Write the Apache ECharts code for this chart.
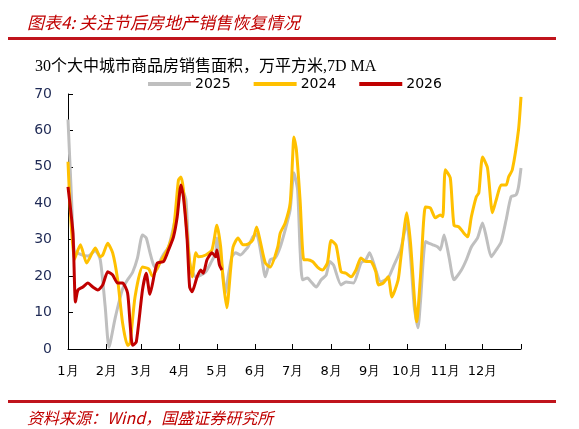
<!DOCTYPE html>
<html>
<head>
<meta charset="utf-8">
<script src="https://cdn.jsdelivr.net/npm/echarts@6/dist/echarts.min.js"></script>
<style>
  html, body { margin: 0; padding: 0; background: #fff; }
  #chart { width: 579px; height: 429px; }
</style>
</head>
<body>
<div id="chart"></div>
<script>
// day of year -> 7D MA sales area
const sales2025 = [
  [0, 63], [3, 40], [5, 27], [10, 26], [16, 25.5], [22, 27], [26, 24.5], [30, 11.5], [33, 0.5],
  [38, 8.5], [44, 16.5], [48, 19], [52, 21], [56, 25], [60, 31.3], [63, 30.5], [66, 26.5],
  [69, 23], [72, 22], [74, 24], [77, 26], [81, 28], [85, 33.5], [88, 38], [91, 44.5], [95, 41],
  [98, 23.6], [103, 19.8], [107, 20.3], [111, 21.2], [115, 23.6], [119, 26.4], [120, 30.5],
  [123, 25.3], [125, 19.8], [127, 15.4], [129, 19.8], [132, 25.3], [135, 26.4], [139, 25.8],
  [143, 27.2], [145, 28], [149, 30.8], [152, 31.5], [156, 25.3], [159, 19.8], [163, 24.5],
  [167, 25], [171, 28], [175, 32.7], [179, 38.2], [182, 48.4], [185, 43.7], [187, 27.2],
  [189, 19], [193, 19.5], [196, 18.4], [200, 17], [204, 19], [208, 20.3], [211, 24], [214, 23],
  [220, 17.6], [224, 18.4], [230, 18.1], [236, 23.6], [240, 24.5], [243, 26.4], [248, 21.7],
  [252, 18.4], [258, 19.5], [262, 22.5], [268, 27.2], [273, 34.6], [276, 25.3], [279, 11.5],
  [282, 5.8], [284, 13], [288, 29.5], [291, 29], [294, 28.6], [298, 28], [300, 27.2],
  [303, 31.3], [307, 25.3], [311, 19], [317, 21.7], [321, 24.5], [325, 28], [330, 30.5],
  [334, 34.6], [337, 30.8], [341, 25.3], [345, 27.2], [349, 29.4], [353, 35.4], [357, 41.8],
  [361, 42.3], [363, 44.5], [365, 49.7]
];

const sales2024 = [
  [0, 51.4], [5, 24.5], [10, 28.6], [15, 23.6], [22, 27.7], [26, 25.3], [28, 25.8], [32, 29],
  [36, 26.4], [40, 19], [44, 7.1], [48, 1], [50, 1.6], [54, 14.3], [60, 22.5], [65, 22],
  [68, 20], [74, 23.6], [80, 27.2], [85, 32.7], [89, 46.4], [91, 47.2], [93, 43.7], [97, 27.2],
  [100, 19.8], [103, 26.4], [105, 25.3], [111, 25.8], [116, 27.2], [120, 34], [123, 28],
  [125, 19], [128, 11.3], [131, 21.7], [133, 28], [137, 30.5], [141, 28.6], [145, 28.8],
  [149, 30], [152, 33.5], [155, 29.4], [159, 23.6], [163, 22.5], [169, 28], [171, 31.8],
  [175, 34.6], [179, 40], [181, 52.7], [182, 58.2], [184, 54.7], [187, 40.9], [190, 24.5],
  [193, 24.5], [197, 24], [201, 22.5], [205, 21.7], [209, 23.6], [212, 29.8], [216, 28.5],
  [220, 21.2], [224, 20.8], [228, 19.8], [232, 21.7], [236, 25], [240, 24], [244, 24],
  [248, 21.2], [250, 17.6], [254, 18.1], [258, 19.8], [261, 14.3], [266, 19], [268, 24.5],
  [273, 37.4], [276, 29], [281, 7.5], [284, 19.8], [288, 39], [292, 38.7], [296, 36],
  [300, 36.8], [302, 36.3], [304, 49.2], [308, 47], [311, 34], [315, 33.5], [319, 31.8],
  [322, 30.8], [325, 36.3], [329, 41.8], [331, 42.8], [334, 52.7], [338, 49.7], [342, 37.4],
  [345, 40.9], [349, 45], [353, 45], [355, 47.2], [358, 49.2], [363, 60.2], [365, 69.2]
];

const sales2026 = [
  [0, 44.5], [4, 31.8], [6, 12.9], [8, 16.2], [12, 17], [16, 18.1], [20, 17], [24, 16.2],
  [28, 17.6], [32, 21.2], [36, 20.3], [40, 18.1], [44, 18.1], [48, 15.4], [50, 7.1], [52, 1],
  [55, 1.9], [60, 16.2], [63, 20.8], [66, 15], [70, 21.2], [72, 23.6], [77, 24], [81, 27.2],
  [85, 30.8], [88, 36.3], [91, 45], [93, 41.8], [96, 30], [98, 17], [100, 15.7], [104, 19.8],
  [107, 21.7], [109, 20.8], [112, 24.5], [116, 26.4], [119, 25.3], [120, 27.2], [122, 23.1],
  [124, 21.7]
];

const seriesNames = ['2025', '2024', '2026'];
const monthStarts = [0, 31, 59, 90, 120, 151, 181, 212, 243, 273, 304, 334];
const monthLabels = ['1月', '2月', '3月', '4月', '5月', '6月', '7月', '8月', '9月', '10月', '11月', '12月'];
const tickDays = monthStarts.concat([365]);

const colors = ['#BFBFBF', '#FFC000', '#C00000'];
const cjk = '"Noto Sans CJK SC", sans-serif';

const chart = echarts.init(document.getElementById('chart'));

chart.setOption({
  animation: false,
  backgroundColor: '#fff',
  title: [
    {
      text: '图表4: 关注节后房地产销售恢复情况',
      left: 22,
      top: 9,
      textStyle: { color: '#C00000', fontSize: 17, fontStyle: 'italic', fontWeight: 'normal', fontFamily: cjk }
    },
    {
      text: '30个大中城市商品房销售面积，万平方米,7D MA',
      left: 30,
      top: 54,
      textStyle: { color: '#000', fontSize: 16, fontWeight: 'normal', fontFamily: '"Liberation Serif", "Noto Sans CJK SC", serif' }
    },
    {
      text: '资料来源：Wind，国盛证券研究所',
      left: 22,
      top: 405,
      textStyle: { color: '#C00000', fontSize: 16, fontStyle: 'italic', fontWeight: 'normal', fontFamily: cjk }
    }
  ],
  graphic: [
    { type: 'rect', shape: { x: 8, y: 37, width: 548, height: 3 }, style: { fill: '#C0141C' } },
    { type: 'rect', shape: { x: 8, y: 400, width: 548, height: 3 }, style: { fill: '#C0141C' } }
  ],
  legend: {
    left: 143,
    top: 72,
    itemWidth: 43,
    itemHeight: 4,
    itemGap: 23,
    icon: 'rect',
    textStyle: { color: '#000', fontSize: 14, fontFamily: '"DejaVu Sans", sans-serif', padding: [0, 0, 0, -1] },
    data: seriesNames
  },
  grid: { left: 68, right: 58, top: 94, bottom: 80 },
  xAxis: {
    type: 'value',
    min: 0,
    max: 365,
    axisLine: { lineStyle: { color: '#000', width: 1 } },
    axisTick: { show: true, inside: true, length: 5, lineStyle: { color: '#000' }, customValues: tickDays },
    axisLabel: {
      customValues: monthStarts,
      margin: 16,
      color: '#000',
      fontSize: 13,
      fontFamily: '"DejaVu Sans", sans-serif',
      formatter: v => monthLabels[monthStarts.indexOf(v)]
    },
    splitLine: { show: false }
  },
  yAxis: {
    type: 'value',
    min: 0,
    max: 70,
    interval: 10,
    axisLine: { show: true, lineStyle: { color: '#000', width: 1 } },
    axisTick: { show: true, inside: true, length: 5, lineStyle: { color: '#000' } },
    axisLabel: { margin: 16, color: '#1F2A55', fontSize: 14, fontFamily: '"DejaVu Sans", sans-serif' },
    splitLine: { show: false }
  },
  series: [sales2025, sales2024, sales2026].map((d, i) => ({
    name: seriesNames[i],
    type: 'line',
    data: d,
    smooth: 0.2,
    showSymbol: false,
    color: colors[i],
    lineStyle: { width: 3, color: colors[i] }
  }))
});
</script>
</body>
</html>
